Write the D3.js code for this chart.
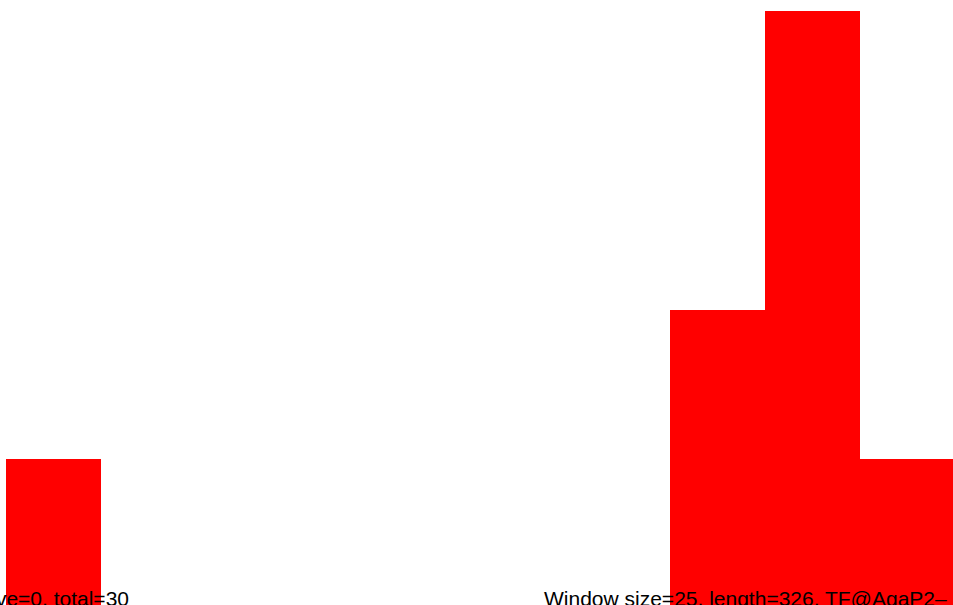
<!DOCTYPE html>
<html>
<head>
<meta charset="utf-8">
<script src="https://cdn.jsdelivr.net/npm/d3@7"></script>
<style>
  html, body { margin: 0; padding: 0; background: #fff; overflow: hidden; }
  svg { display: block; }
</style>
</head>
<body>
<script>
// Histogram bins (index of bin) and counts
const bins = [0, 1, 2, 3, 4, 5, 6, 7, 8, 9];
const counts = [1, 0, 0, 0, 0, 0, 0, 2, 4, 1];
const leftLabel = "ve=0, total=30";
const rightLabel = "Window size=25, length=326, TF@AgaP2\u2013";

const W = 953, H = 605;
const svg = d3.select("body").append("svg")
  .attr("width", W).attr("height", H);

const x = d3.scaleLinear().domain([0, bins.length]).range([6, 955]);
const y = d3.scaleLinear().domain([0, 4]).range([608, 11]);

svg.selectAll("rect.bar")
  .data(bins.map((b, i) => ({ b, c: counts[i] })).filter(d => d.c > 0))
  .enter().append("rect")
  .attr("class", "bar")
  .attr("x", d => x(d.b))
  .attr("width", d => x(d.b + 1) - x(d.b))
  .attr("y", d => y(d.c))
  .attr("height", d => y(0) - y(d.c))
  .attr("fill", "#ff0000")
  .attr("shape-rendering", "crispEdges");

svg.append("text")
  .attr("x", 129).attr("y", 606)
  .attr("text-anchor", "end")
  .attr("font-family", "Liberation Sans, Arial, sans-serif")
  .attr("font-size", 21)
  .attr("fill", "#000")
  .text(leftLabel);

svg.append("text")
  .attr("x", 544).attr("y", 606)
  .attr("text-anchor", "start")
  .attr("font-family", "Liberation Sans, Arial, sans-serif")
  .attr("font-size", 21)
  .attr("fill", "#000")
  .text(rightLabel);
</script>
</body>
</html>
